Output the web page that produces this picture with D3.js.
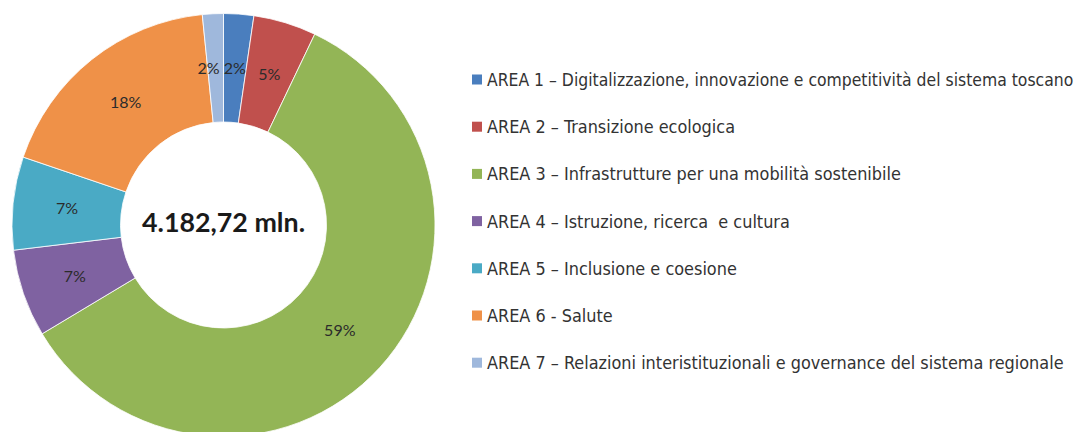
<!DOCTYPE html>
<html><head><meta charset="utf-8">
<script src="https://cdn.jsdelivr.net/npm/d3@7/dist/d3.min.js"></script>
<style>html,body{margin:0;padding:0;background:#fff;overflow:hidden}svg{display:block}</style>
</head><body><svg id="c" width="1088" height="432"></svg>
<script>
const categories = [
  "AREA 1 – Digitalizzazione, innovazione e competitività del sistema toscano",
  "AREA 2 – Transizione ecologica",
  "AREA 3 – Infrastrutture per una mobilità sostenibile",
  "AREA 4 – Istruzione, ricerca  e cultura",
  "AREA 5 – Inclusione e coesione",
  "AREA 6 - Salute",
  "AREA 7 – Relazioni interistituzionali e governance del sistema regionale"
];
const values = [2.3, 4.8, 59.3, 6.7, 7.1, 18.2, 1.6];
const colors = ["#4A7EBE", "#C0504D", "#93B556", "#7F62A1", "#4AAAC5", "#EF9148", "#9FB8DC"];
const totalLabel = "4.182,72 mln.";

const W = 1088;
const svg = d3.select("#c");
const cx = 223.5, cy = 225, rOuter = 211.5, rInner = 103;
const total = d3.sum(values);

const pie = d3.pie().sort(null).value(d => d)(values);
const arc = d3.arc().innerRadius(rInner).outerRadius(rOuter);
const labelArc = d3.arc().innerRadius((rInner + rOuter) / 2).outerRadius((rInner + rOuter) / 2);
const color = d3.scaleOrdinal().domain(d3.range(values.length)).range(colors);
const pct = d3.format(".0%");

const g = svg.append("g").attr("transform", `translate(${cx},${cy})`);
g.selectAll("path").data(pie).join("path")
  .attr("d", arc)
  .attr("fill", (d, i) => color(i))
  .attr("stroke", "#ffffff").attr("stroke-width", 0.8);

// small slices near the top: anchor their labels away from each other
const isSmall = d => (d.endAngle - d.startAngle) < 0.25;
g.selectAll("text.lab").data(pie).join("text")
  .attr("class", "lab")
  .attr("transform", d => {
    const [x, y] = labelArc.centroid(d);
    if (isSmall(d) && x < 0) return `translate(${x + 4},${y})`;
    return `translate(${x},${y})`;
  })
  .attr("text-anchor", d => {
    const [x] = labelArc.centroid(d);
    return (isSmall(d) && x < 0) ? "end" : "middle";
  })
  .attr("dy", "0.35em")
  .attr("font-family", "Lato, 'Open Sans', sans-serif")
  .attr("font-size", 16)
  .attr("fill", "#2b2b2b")
  .text(d => pct(d.value / total));

g.append("text")
  .attr("text-anchor", "middle")
  .attr("y", 7)
  .attr("font-family", "Lato, 'Open Sans', sans-serif")
  .attr("font-weight", "bold")
  .attr("font-size", 26.8)
  .attr("fill", "#1a1a1a")
  .text(totalLabel);

const ly = d3.scalePoint().domain(categories).range([79.5, 362.7]);
const leg = svg.append("g");
const rows = leg.selectAll("g").data(categories).join("g")
  .attr("transform", d => `translate(0,${ly(d)})`);
rows.append("rect")
  .attr("x", 472).attr("y", -5).attr("width", 10).attr("height", 10)
  .attr("fill", (d, i) => color(i));
const legendX = 487;
rows.append("text")
  .attr("x", legendX).attr("y", 6.5)
  .attr("font-family", "'DejaVu Sans Condensed', 'DejaVu Sans', sans-serif")
  .attr("font-size", 17.9)
  .attr("fill", "#333333")
  .attr("xml:space", "preserve")
  .style("white-space", "pre")
  .text(d => d)
  .each(function () {
    const maxW = W - 12 - legendX;
    const sel = d3.select(this);
    let fs = 17.9;
    while (this.getComputedTextLength() > maxW && fs > 10) {
      fs -= 0.1;
      sel.attr("font-size", fs.toFixed(1));
    }
  });
</script></body></html>
